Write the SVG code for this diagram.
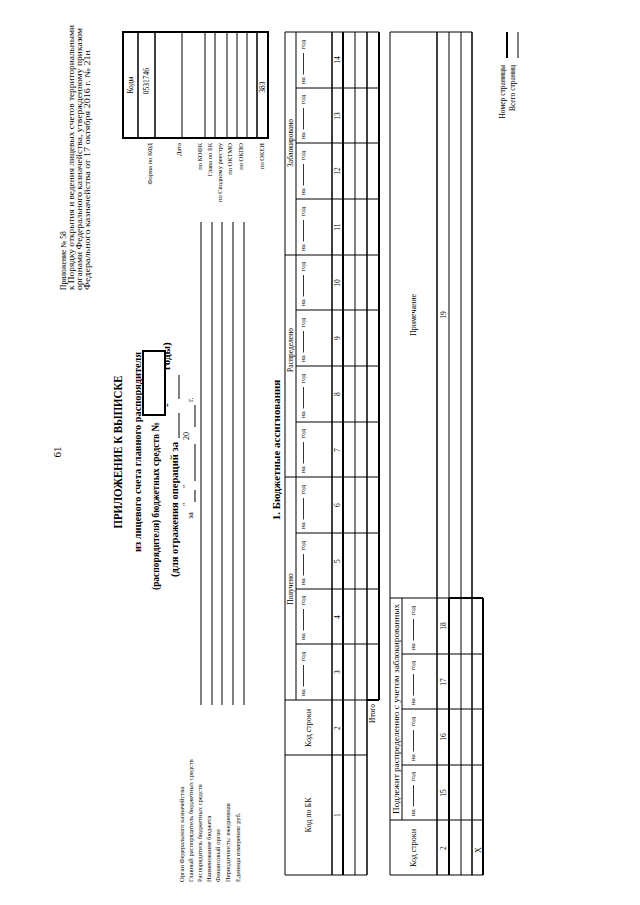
<svg xmlns="http://www.w3.org/2000/svg" xmlns:xlink="http://www.w3.org/1999/xlink" width="640" height="905" viewBox="0 0 640 905">
<style>
.t{font-family:"Liberation Serif","Times New Roman",serif;fill:#000}
.f6{font-size:6.5px}.f7{font-size:7.5px}.f8{font-size:8px}
.b{font-weight:bold}
.m{text-anchor:middle}.e{text-anchor:end}
.l{stroke:#000;stroke-width:1;fill:none}
.k{stroke:#000;stroke-width:2;fill:none}
.h{stroke:#000;stroke-width:1.5;fill:none}
</style>
<defs>
<g id="nagod">
<text x="4" y="0" font-family="Liberation Serif, serif" font-size="7">на</text>
<line x1="13.5" y1="-1.5" x2="35" y2="-1.5" stroke="#000" stroke-width="0.8"/>
<text x="38.5" y="0" font-family="Liberation Serif, serif" font-size="7">год</text>
</g>
</defs>
<rect width="640" height="905" fill="#fff"/>
<g transform="translate(0,905) rotate(-90)">

<g id="pagenum">
<text class="t m" x="453" y="61" font-size="11">61</text>
</g>

<g id="header">
<text class="t f7" x="615" y="66">Приложение № 58</text>
<text class="t f7" x="615" y="74" textLength="265" lengthAdjust="spacingAndGlyphs">к Порядку открытия и ведения лицевых счетов территориальными</text>
<text class="t f7" x="615" y="82" textLength="262" lengthAdjust="spacingAndGlyphs">органами Федерального казначейства, утвержденному приказом</text>
<text class="t f7" x="615" y="90" textLength="240" lengthAdjust="spacingAndGlyphs">Федерального казначейства от 17 октября 2016 г. № 21н</text>
</g>

<g id="title">
<text class="t b m" x="453" y="122" font-size="11.5" textLength="153" lengthAdjust="spacingAndGlyphs">ПРИЛОЖЕНИЕ К ВЫПИСКЕ</text>
<text class="t b m" x="453" y="141" font-size="11" textLength="200" lengthAdjust="spacingAndGlyphs">из лицевого счета главного распорядителя</text>
<text class="t b" x="315" y="159" font-size="11" textLength="168" lengthAdjust="spacingAndGlyphs">(распорядителя) бюджетных средств №</text>
<rect class="k" x="490" y="143" width="64" height="22"/>
<text class="t b" x="328" y="178" font-size="11" textLength="135" lengthAdjust="spacingAndGlyphs">(для отражения операций за</text>
<line class="l" x1="467" y1="179" x2="492" y2="179"/>
<text class="t b" x="498" y="170" font-size="11">-</text>
<line class="l" x1="506" y1="179" x2="530" y2="179"/>
<text class="t b" x="535" y="170" font-size="11">годы)</text>
<text class="t" x="386" y="193" font-size="8">за</text>
<text class="t" x="399" y="189" font-size="8">"</text>
<line class="l" x1="403" y1="195" x2="415" y2="195"/>
<text class="t" x="417" y="189" font-size="8">"</text>
<line class="l" x1="424" y1="195" x2="461" y2="195"/>
<text class="t" x="465" y="189" font-size="8">20</text>
<line class="l" x1="478" y1="195" x2="500" y2="195"/>
<text class="t" x="503" y="193" font-size="8">г.</text>
</g>

<g id="codes">
<rect class="k" x="767" y="123" width="106" height="145"/>
<line class="h" x1="767" y1="138" x2="873" y2="138"/>
<line class="h" x1="767" y1="155" x2="873" y2="155"/>
<line class="l" x1="767" y1="182" x2="873" y2="182"/>
<line class="l" x1="767" y1="205" x2="873" y2="205"/>
<line class="l" x1="767" y1="215" x2="873" y2="215"/>
<line class="l" x1="767" y1="227" x2="873" y2="227"/>
<line class="l" x1="767" y1="237" x2="873" y2="237"/>
<line class="l" x1="767" y1="247" x2="873" y2="247"/>
<line class="h" x1="767" y1="257" x2="873" y2="257"/>
<text class="t f7 m" x="820" y="133">Коды</text>
<text class="t f7 m" x="824" y="149">0531746</text>
<text class="t f7 m" x="818" y="265">383</text>
<text class="t f6 e" x="762" y="152">Форма по КФД</text>
<text class="t f6 e" x="762" y="181">Дата</text>
<text class="t f6 e" x="762" y="202">по КОФК</text>
<text class="t f6 e" x="762" y="212">Глава по БК</text>
<text class="t f6 e" x="762" y="222">по Сводному реестру</text>
<text class="t f6 e" x="762" y="232">по ОКТМО</text>
<text class="t f6 e" x="762" y="243">по ОКПО</text>
<text class="t f6 e" x="762" y="264">по ОКЕИ</text>
</g>

<g id="fields">
<text class="t f6" x="23" y="184">Орган Федерального казначейства</text>
<text class="t f6" x="23" y="193">Главный распорядитель бюджетных средств</text>
<text class="t f6" x="23" y="202">Распорядитель бюджетных средств</text>
<text class="t f6" x="23" y="211">Наименование бюджета</text>
<text class="t f6" x="23" y="220">Финансовый орган</text>
<text class="t f6" x="23" y="230">Периодичность: ежедневная</text>
<text class="t f6" x="23" y="240">Единица измерения: руб.</text>
<line class="l" x1="200" y1="201" x2="683" y2="201"/>
<line class="l" x1="200" y1="212" x2="683" y2="212"/>
<line class="l" x1="200" y1="222" x2="683" y2="222"/>
<line class="l" x1="200" y1="233" x2="683" y2="233"/>
<line class="l" x1="200" y1="244" x2="683" y2="244"/>
</g>

<g id="table1">
<text class="t b m" x="455" y="280" font-size="11">1. Бюджетные ассигнования</text>
<line class="l" x1="30" y1="285" x2="873" y2="285"/>
<line class="l" x1="205" y1="296" x2="873" y2="296"/>
<line class="h" x1="30" y1="332" x2="873" y2="332"/>
<line class="k" x1="30" y1="343" x2="873" y2="343"/>
<line class="l" x1="30" y1="355" x2="873" y2="355"/>
<line class="h" x1="30" y1="367" x2="873" y2="367"/>
<line class="k" x1="205" y1="379" x2="873" y2="379"/>
<line class="l" x1="30" y1="285" x2="30" y2="367"/>
<line class="l" x1="150" y1="285" x2="150" y2="367"/>
<line class="l" x1="205" y1="285" x2="205" y2="367"/>
<line class="k" x1="205" y1="367" x2="205" y2="379"/>
<line class="l" x1="261" y1="296" x2="261" y2="379"/>
<line class="l" x1="316" y1="296" x2="316" y2="379"/>
<line class="l" x1="372" y1="296" x2="372" y2="379"/>
<line class="l" x1="428" y1="285" x2="428" y2="379"/>
<line class="l" x1="483" y1="296" x2="483" y2="379"/>
<line class="l" x1="539" y1="296" x2="539" y2="379"/>
<line class="l" x1="595" y1="296" x2="595" y2="379"/>
<line class="l" x1="650" y1="285" x2="650" y2="379"/>
<line class="l" x1="706" y1="296" x2="706" y2="379"/>
<line class="l" x1="762" y1="296" x2="762" y2="379"/>
<line class="l" x1="817" y1="296" x2="817" y2="379"/>
<line class="l" x1="873" y1="285" x2="873" y2="379"/>
<text class="t f8 m" x="90" y="311">Код по БК</text>
<text class="t f8 m" x="177" y="311">Код строки</text>
<text class="t f7 m" x="316" y="293">Получено</text>
<text class="t f7 m" x="555" y="293">Распределено</text>
<text class="t f7 m" x="762" y="293">Заблокировано</text>
<use xlink:href="#nagod" x="205" y="305"/>
<use xlink:href="#nagod" x="261" y="305"/>
<use xlink:href="#nagod" x="316" y="305"/>
<use xlink:href="#nagod" x="372" y="305"/>
<use xlink:href="#nagod" x="428" y="305"/>
<use xlink:href="#nagod" x="483" y="305"/>
<use xlink:href="#nagod" x="539" y="305"/>
<use xlink:href="#nagod" x="595" y="305"/>
<use xlink:href="#nagod" x="650" y="305"/>
<use xlink:href="#nagod" x="706" y="305"/>
<use xlink:href="#nagod" x="762" y="305"/>
<use xlink:href="#nagod" x="817" y="305"/>
<text class="t f7 m" x="90" y="340">1</text>
<text class="t f7 m" x="177" y="340">2</text>
<text class="t f7 m" x="233" y="340">3</text>
<text class="t f7 m" x="288" y="340">4</text>
<text class="t f7 m" x="344" y="340">5</text>
<text class="t f7 m" x="400" y="340">6</text>
<text class="t f7 m" x="455" y="340">7</text>
<text class="t f7 m" x="511" y="340">8</text>
<text class="t f7 m" x="567" y="340">9</text>
<text class="t f7 m" x="622" y="340">10</text>
<text class="t f7 m" x="678" y="340">11</text>
<text class="t f7 m" x="734" y="340">12</text>
<text class="t f7 m" x="789" y="340">13</text>
<text class="t f7 m" x="845" y="340">14</text>
<text class="t f7 e" x="201" y="375">Итого</text>
</g>

<g id="table2">
<line class="l" x1="30" y1="390" x2="873" y2="390"/>
<line class="l" x1="85" y1="402" x2="307" y2="402"/>
<line class="h" x1="30" y1="437" x2="873" y2="437"/>
<line class="k" x1="30" y1="449" x2="307" y2="449"/>
<line class="l" x1="307" y1="449" x2="873" y2="449"/>
<line class="l" x1="30" y1="461" x2="873" y2="461"/>
<line class="h" x1="30" y1="472" x2="873" y2="472"/>
<line class="k" x1="30" y1="483" x2="307" y2="483"/>
<line class="l" x1="30" y1="390" x2="30" y2="483"/>
<line class="l" x1="85" y1="390" x2="85" y2="483"/>
<line class="l" x1="140" y1="402" x2="140" y2="483"/>
<line class="l" x1="196" y1="402" x2="196" y2="483"/>
<line class="l" x1="251" y1="402" x2="251" y2="483"/>
<line class="l" x1="307" y1="390" x2="307" y2="449"/>
<line class="k" x1="307" y1="449" x2="307" y2="483"/>
<line class="l" x1="873" y1="390" x2="873" y2="472"/>
<text class="t f7 m" x="196" y="398.8" textLength="210" lengthAdjust="spacingAndGlyphs">Подлежит распределению с учетом заблокированных</text>
<text class="t f8 m" x="57" y="416">Код строки</text>
<text class="t f8 m" x="590" y="416">Примечание</text>
<use xlink:href="#nagod" x="85" y="415"/>
<use xlink:href="#nagod" x="140" y="415"/>
<use xlink:href="#nagod" x="196" y="415"/>
<use xlink:href="#nagod" x="251" y="415"/>
<text class="t f7 m" x="57" y="446">2</text>
<text class="t f7 m" x="112" y="446">15</text>
<text class="t f7 m" x="168" y="446">16</text>
<text class="t f7 m" x="223" y="446">17</text>
<text class="t f7 m" x="279" y="446">18</text>
<text class="t f7 m" x="590" y="446">19</text>
<text class="t f8 m" x="55" y="481">Х</text>
</g>

<g id="footer">
<text class="t f7 e" x="840" y="505">Номер страницы</text>
<text class="t f7 e" x="840" y="515">Всего страниц</text>
<line class="k" x1="847" y1="507" x2="873" y2="507"/>
<line class="l" x1="847" y1="518" x2="873" y2="518"/>
</g>

</g>
</svg>
